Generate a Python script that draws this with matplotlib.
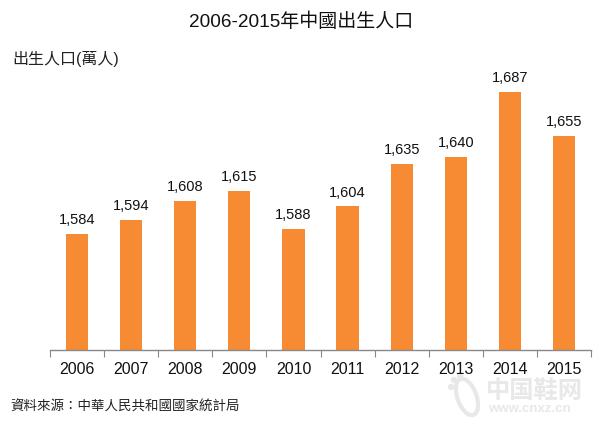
# -*- coding: utf-8 -*-
import numpy as np
import matplotlib
matplotlib.use('Agg')
import matplotlib.pyplot as plt
from matplotlib.patches import Ellipse
from matplotlib.transforms import IdentityTransform

plt.rcParams['font.family'] = ['Liberation Sans', 'Noto Sans CJK TC', 'DejaVu Sans']

years = ['2006', '2007', '2008', '2009', '2010', '2011', '2012', '2013', '2014', '2015']
births = [1584, 1594, 1608, 1615, 1588, 1604, 1635, 1640, 1687, 1655]
bar_color = '#f78b33'
mark_color = '#e8e8e8'

W, H = 600, 423
fig = plt.figure(figsize=(W / 100, H / 100), dpi=100)
ax = fig.add_axes([50 / W, 1 - 350 / H, 541 / W, 276 / H])
ax.patch.set_visible(False)

x = np.arange(len(years))
ax.bar(x, births, width=0.41, color=bar_color)
for xi, v in zip(x, births):
    ax.text(xi, v + 5, f'{v:,}', ha='center', va='bottom', fontsize=10.5, color='#111111')

ax.set_xlim(-0.5, len(years) - 0.5)
ax.set_ylim(1500, 1700)
ax.set_yticks([])
for s in ['top', 'left', 'right']:
    ax.spines[s].set_visible(False)
ax.spines['bottom'].set_color('#888888')
ax.spines['bottom'].set_linewidth(1)

# ticks sit between the bars
ax.set_xticks(np.arange(len(years) + 1) - 0.5)
ax.set_xticklabels([])
ax.tick_params(axis='x', direction='out', length=5, width=0.8, color='#888888')
for xi, y in zip(x, years):
    ax.annotate(y, (xi, 0), xycoords=('data', 'axes fraction'), xytext=(0, -8.5),
                textcoords='offset points', ha='center', va='top', fontsize=11.5, color='#111111')

fig.text(301 / W, 1 - 22 / H, '2006-2015年中國出生人口', ha='center', va='center', fontsize=13.7, color='#111111')
fig.text(12 / W, 1 - 59 / H, '出生人口(萬人)', ha='left', va='center', fontsize=11.5, color='#222222')
fig.text(10 / W, 1 - 407 / H, '資料來源：中華人民共和國國家統計局', ha='left', va='center', fontsize=9.7, color='#222222')

# watermark, pixel positions measured from the top left, kept behind the axes
fig.text(486 / W, 1 - 391 / H, '中国鞋网', ha='left', va='center', fontsize=17.5, color=mark_color,
         fontweight='bold', zorder=-1)
fig.text(488 / W, 1 - 409 / H, 'www.cnxz.cn', ha='left', va='center', fontsize=9.5, color=mark_color,
         fontweight='bold', zorder=-1)
fig.add_artist(Ellipse((467, H - 397), 19, 38, angle=20, fill=False, edgecolor=mark_color,
                       linewidth=3, transform=IdentityTransform(), zorder=-1))
for px, py in [(460, 376), (454, 380), (451, 387)]:
    fig.add_artist(Ellipse((px, H - py), 5, 5, color=mark_color, transform=IdentityTransform(), zorder=-1))

fig.savefig('out.png', dpi=100)
